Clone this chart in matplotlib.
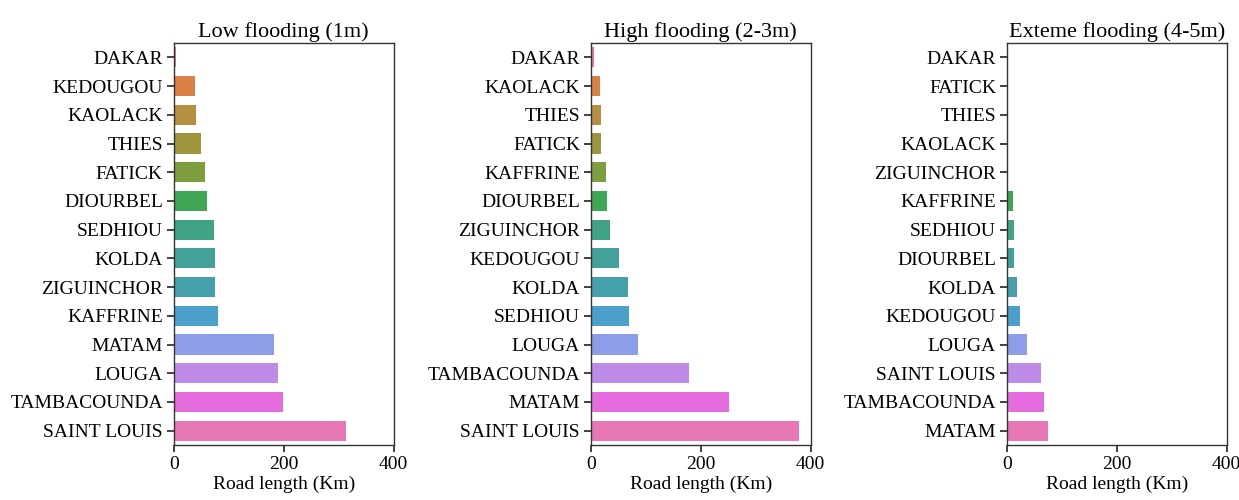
import matplotlib
matplotlib.use("Agg")
import matplotlib.pyplot as plt
import seaborn as sns

plt.rcParams['font.family'] = ['Liberation Serif', 'DejaVu Serif']

# Road length exposed per region, sorted by length within each scenario
low_regions = ["DAKAR", "KEDOUGOU", "KAOLACK", "THIES", "FATICK", "DIOURBEL", "SEDHIOU",
               "KOLDA", "ZIGUINCHOR", "KAFFRINE", "MATAM", "LOUGA", "TAMBACOUNDA", "SAINT LOUIS"]
low_km = [3, 38, 41, 50, 56, 60, 73, 75, 75, 81, 182, 190, 198, 314]

high_regions = ["DAKAR", "KAOLACK", "THIES", "FATICK", "KAFFRINE", "DIOURBEL", "ZIGUINCHOR",
                "KEDOUGOU", "KOLDA", "SEDHIOU", "LOUGA", "TAMBACOUNDA", "MATAM", "SAINT LOUIS"]
high_km = [5, 16, 18, 19, 28, 29, 35, 51, 68, 70, 85, 178, 252, 379]

ext_regions = ["DAKAR", "FATICK", "THIES", "KAOLACK", "ZIGUINCHOR", "KAFFRINE", "SEDHIOU",
               "DIOURBEL", "KOLDA", "KEDOUGOU", "LOUGA", "SAINT LOUIS", "TAMBACOUNDA", "MATAM"]
ext_km = [0, 0, 0, 0, 0.5, 11, 13, 13, 19, 24, 37, 62, 67, 74]

titles = ["Low flooding (1m)", "High flooding (2-3m)", "Exteme flooding (4-5m)"]
xlabel = "Road length (Km)"
xticks = [0, 200, 400]

panels = [(low_regions, low_km), (high_regions, high_km), (ext_regions, ext_km)]

colors = [sns.desaturate(c, 0.8) for c in sns.husl_palette(14, l=.65)]

fig = plt.figure(figsize=(12.39, 5), dpi=100)
lefts = [0.1404, 0.477, 0.8128]
for left, (regions, km), title in zip(lefts, panels, titles):
    ax = fig.add_axes([left, 0.11, 0.1772, 0.804])
    ypos = range(len(regions))
    ax.barh(ypos, km, height=0.7, color=colors[:len(regions)])
    ax.set_yticks(list(ypos))
    ax.set_yticklabels(regions, fontsize=14)
    ax.set_ylim(len(regions) - 0.5, -0.5)
    ax.set_xlim(0, 400)
    ax.set_xticks(xticks)
    ax.set_xticklabels([str(t) for t in xticks], fontsize=14)
    ax.set_xlabel(xlabel, fontsize=14, labelpad=2)
    ax.set_title(title, fontsize=16, pad=4)
    for s in ax.spines.values():
        s.set_color("#333333")
        s.set_linewidth(1.0)
    ax.tick_params(length=5, width=1.2, color="#222222", pad=3)

fig.savefig("out.png", dpi=100)
